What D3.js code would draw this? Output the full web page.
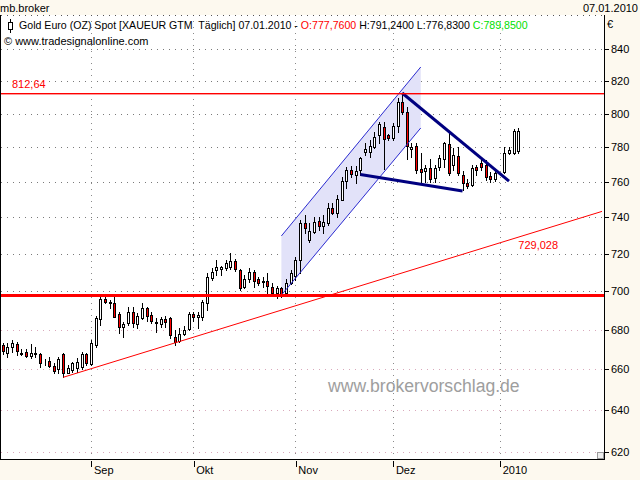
<!DOCTYPE html>
<html>
<head>
<meta charset="utf-8">
<script src="https://cdn.jsdelivr.net/npm/d3@7"></script>
<style>
body { margin: 0; background: #fdf9ef; }
svg { display: block; font-family: "Liberation Sans", Arial, sans-serif; }
</style>
</head>
<body>
<div id="chart"></div>
<script>
// daily OHLC, Gold Euro spot, 05.08.2009 - 07.01.2010 (null = no trading, 01.01.2010)
const opens = [672.1,668.0,671.0,672.6,667.6,668.8,666.7,667.6,667.6,663.6,664.1,661.6,660.0,667.6,658.3,659.6,660.5,661.0,667.6,
  662.6,672.1,685.3,695.9,693.6,693.6,688.0,681.2,683.2,688.9,682.9,686.0,691.0,687.5,683.2,682.9,685.3,685.8,676.1,674.3,677.8,680.2,
  688.0,686.3,686.6,693.9,706.8,711.2,711.6,712.1,713.0,716.2,711.2,702.3,706.3,710.3,706.3,705.5,705.5,702.3,698.8,701.5,699.2,704.5,
  708.1,716.6,736.7,727.5,732.0,738.0,735.1,737.0,745.0,742.6,749.7,760.7,766.8,764.0,766.8,777.1,777.1,780.4,787.3,792.3,787.3,
  785.4,792.7,807.3,801.3,778.9,780.8,767.2,766.4,767.8,762.1,768.4,773.0,781.8,769.7,774.9,763.8,759.5,758.2,768.8,771.1,769.7,763.6,761.6,
  null,765.9,776.9,776.9,777.76];
const highs = [673.2,673.2,674.7,673.8,670.1,670.1,672.6,671.3,668.1,665.0,666.3,663.1,666.3,668.0,662.1,663.8,665.5,668.8,668.3,
  674.7,687.2,697.0,697.5,695.3,697.9,689.2,684.1,691.8,691.8,688.4,693.9,691.8,689.2,685.8,686.6,687.0,686.6,679.8,680.7,681.9,689.2,
  689.2,689.2,695.3,709.5,712.1,716.6,713.4,716.6,720.2,717.0,711.6,708.6,712.1,711.2,707.7,707.3,709.5,704.5,702.7,702.3,706.3,711.2,
  718.4,738.5,741.2,736.7,740.3,740.3,741.2,747.9,747.9,752.6,763.0,768.8,769.2,769.2,774.6,782.4,784.4,789.3,795.3,795.3,787.9,
  794.3,809.4,812.64,804.3,782.4,782.4,776.6,769.7,773.0,769.7,775.5,783.4,788.4,779.5,780.4,766.4,761.5,769.7,769.7,772.6,772.6,765.5,766.8,
  null,780.4,780.4,790.8,791.24];
const lows = [667.6,666.3,668.8,667.0,667.0,666.2,665.7,666.3,661.3,662.3,661.0,658.0,658.0,656.0,658.0,658.8,658.8,660.1,662.1,
  662.1,671.3,682.3,694.0,691.0,686.3,678.1,676.2,682.3,681.4,680.7,685.5,684.6,683.5,679.0,681.4,681.4,675.6,672.1,673.8,677.3,679.8,
  684.6,680.7,684.9,690.1,705.9,708.6,708.6,711.2,711.6,710.9,700.6,701.5,705.0,702.3,703.3,702.3,699.2,697.9,696.5,697.0,697.4,703.7,
  705.9,709.5,731.1,726.6,731.1,733.0,731.1,735.8,741.8,740.3,749.7,756.4,763.0,759.5,764.0,775.5,774.6,779.5,782.4,767.4,784.4,
  784.4,789.3,799.9,773.5,774.6,764.9,760.1,760.1,760.1,760.1,766.8,768.8,763.8,766.8,763.8,755.4,756.8,757.7,764.0,766.8,761.1,760.1,760.7,
  null,764.9,776.0,776.2,776.83];
const closes = [669.1,671.3,673.0,669.1,668.3,666.7,668.3,668.3,663.3,663.6,661.8,659.3,665.0,658.0,660.5,663.0,663.8,667.6,663.3,
  673.0,686.0,695.7,694.5,694.3,686.6,681.2,682.9,688.9,683.5,687.0,691.0,687.0,684.6,684.1,685.3,683.8,677.3,673.6,677.8,679.8,688.0,
  686.3,687.5,694.4,707.7,710.3,713.0,712.7,715.1,716.2,711.6,701.5,706.3,710.3,705.5,704.5,705.0,702.7,698.8,701.8,697.9,704.5,709.5,
  716.6,736.7,733.9,732.4,737.6,735.4,737.6,745.0,742.6,750.1,760.7,766.8,764.5,766.3,773.6,778.9,780.8,786.3,793.9,784.8,785.4,
  792.7,807.3,801.3,780.6,780.4,766.8,765.5,768.0,761.5,767.8,773.6,782.4,765.2,775.5,765.2,759.5,757.7,767.8,767.0,768.8,763.0,761.6,765.0,
  null,776.9,778.5,789.5,789.85];

const yTicks = [840,820,800,780,760,740,720,700,680,660,640,620];
const monthLabels = ["Sep","Okt","Nov","Dez","2010"];

// drawn levels and lines: [bar index, price]
const resistance = 812.64;
const support = 698;
const trendLine = [[13, 656.0], [111, 729.028]];
const channelTop = [[60, 729.7], [90, 828.7]];
const channelBottom = [[60, 697.9], [90, 791.5]];
const wedgeTop = [[86, 812.64], [109, 760.5]];
const wedgeBottom = [[77, 764.3], [99, 754.8]];

// trading days (weekdays)
const dates = [];
for (let d = new Date(2009, 7, 5); d <= new Date(2010, 0, 7); d.setDate(d.getDate() + 1)) {
  if (d.getDay() !== 0 && d.getDay() !== 6) dates.push(new Date(d));
}
const monthIdx = [];
dates.forEach((d, i) => { if (i > 0 && d.getMonth() !== dates[i-1].getMonth()) monthIdx.push(i) });

const W = 640, H = 480;
const pL = 1, pR = 604, pT = 15, pB = 459;

const x = d3.scaleLinear().domain([0, dates.length - 1]).range([2.7, 518.3]);
const y = d3.scaleLog().domain([620, 840]).range([452.3, 49]);

const svg = d3.select('#chart').append('svg').attr('width', W).attr('height', H);
svg.append('rect').attr('width', W).attr('height', H).attr('fill', '#fdf9ef');
svg.append('rect').attr('x', pL).attr('y', pT).attr('width', pR - pL).attr('height', pB - pT).attr('fill', '#fff');

svg.append('clipPath').attr('id', 'clip').append('rect')
  .attr('x', pL).attr('y', pT).attr('width', pR - pL).attr('height', pB - pT);

const px = v => Math.round(v) + 0.5;

//grid
const grid = svg.append('g').attr('shape-rendering', 'crispEdges');
grid.selectAll('.hg').data(yTicks).enter().append('line')
  .attr('x1', pL).attr('x2', pR)
  .attr('y1', d => px(y(d))).attr('y2', d => px(y(d)))
  .attr('stroke', d => d <= 680 ? '#d9a9bb' : '#7a7a7a')
  .attr('stroke-dasharray', '1,5');
grid.selectAll('.vg').data(monthIdx).enter().append('line')
  .attr('x1', d => px(x(d))).attr('x2', d => px(x(d)))
  .attr('y1', pT).attr('y2', pB)
  .attr('stroke', '#8a8a8a')
  .attr('stroke-dasharray', '1,5');
grid.append('line').attr('x1', pL).attr('x2', pR).attr('y1', pT + 0.5).attr('y2', pT + 0.5)
  .attr('stroke', '#555').attr('stroke-dasharray', '1,5');

const g = svg.append('g').attr('clip-path', 'url(#clip)');

// channel fill
const P = p => [x(p[0]), y(p[1])];
g.append('polygon')
  .attr('points', [P(channelTop[0]), P(channelTop[1]), P(channelBottom[1]), P(channelBottom[0])].map(p => p.join(',')).join(' '))
  .attr('fill', '#e2e2f9');

// candles
const bars = d3.range(dates.length).filter(i => opens[i] !== null);
const cg = g.append('g').attr('shape-rendering', 'crispEdges');
cg.selectAll('.wick').data(bars).enter().append('line')
  .attr('x1', i => px(x(i))).attr('x2', i => px(x(i)))
  .attr('y1', i => Math.round(y(highs[i]))).attr('y2', i => Math.round(y(lows[i])) + 1)
  .attr('stroke', '#000');
cg.selectAll('.body').data(bars).enter().append('rect')
  .attr('x', i => Math.round(x(i)) - 1 + 0.5)
  .attr('y', i => Math.round(y(Math.max(opens[i], closes[i]))) + 0.5)
  .attr('width', 2)
  .attr('height', i => Math.max(0, Math.round(y(Math.min(opens[i], closes[i]))) - Math.round(y(Math.max(opens[i], closes[i])))))
  .attr('fill', i => closes[i] >= opens[i] ? '#fff' : '#ff0000')
  .attr('stroke', '#000');

// lines
function seg(a, b, stroke, width, extendRight) {
  const p1 = P(a), p2 = P(b);
  if (extendRight) {
    const t = (pR - 2 - p1[0]) / (p2[0] - p1[0]);
    p2[1] = p1[1] + t * (p2[1] - p1[1]);
    p2[0] = pR - 2;
  }
  g.append('line').attr('x1', p1[0]).attr('y1', p1[1]).attr('x2', p2[0]).attr('y2', p2[1])
    .attr('stroke', stroke).attr('stroke-width', width);
}
seg(channelTop[0], channelTop[1], '#2b2bd0', 1);
seg(channelBottom[0], channelBottom[1], '#2b2bd0', 1);
seg(wedgeTop[0], wedgeTop[1], '#000080', 3);
seg(wedgeBottom[0], wedgeBottom[1], '#000080', 3);
seg(trendLine[0], trendLine[1], '#ff0000', 1, true);

// horizontal levels
g.append('rect').attr('x', pL).attr('width', pR - pL).attr('y', Math.round(y(resistance))).attr('height', 1.4)
  .attr('fill', '#ff0000');
g.append('rect').attr('x', pL).attr('width', pR - pL).attr('y', Math.round(y(support)) - 1).attr('height', 3)
  .attr('fill', '#ff0000');

svg.append('text').attr('x', 12).attr('y', y(resistance) - 5)
  .attr('font-size', 11).attr('fill', '#ff0000').text(d3.format('.2f')(resistance).replace('.', ','));
svg.append('text').attr('x', x(trendLine[1][0])).attr('y', y(trendLine[1][1]) + 12)
  .attr('font-size', 11).attr('fill', '#ff0000').text(d3.format('.3f')(trendLine[1][1]).replace('.', ','));

// watermark
svg.append('text').attr('x', 328).attr('y', 392).attr('font-size', 17.6).attr('fill', '#9e9e9e')
  .text('www.brokervorschlag.de');

// frame
const frame = svg.append('g').attr('stroke', '#000').attr('shape-rendering', 'crispEdges');
frame.append('line').attr('x1', pL - 0.5).attr('x2', pL - 0.5).attr('y1', pT).attr('y2', pB + 1);
frame.append('line').attr('x1', pR + 0.5).attr('x2', pR + 0.5).attr('y1', pT).attr('y2', pB + 1);
frame.append('line').attr('x1', pL - 1).attr('x2', pR + 1).attr('y1', pB + 0.5).attr('y2', pB + 0.5);
svg.append('rect').attr('x', 597.5).attr('y', 452.5).attr('width', 6).attr('height', 6)
  .attr('fill', '#eee').attr('stroke', '#999').attr('shape-rendering', 'crispEdges');

// y-axis
const yAxis = d3.axisRight(y).tickValues(yTicks).tickFormat(d3.format('d')).tickSize(4).tickPadding(2);
const ya = svg.append('g').attr('transform', `translate(${pR + 1},0)`).call(yAxis);
ya.select('.domain').remove();
ya.selectAll('text').attr('font-size', 11).attr('font-family', '"Liberation Sans", Arial, sans-serif').attr('fill', '#000');
ya.selectAll('line').attr('shape-rendering', 'crispEdges');
svg.append('text').attr('x', 607).attr('y', 28).attr('font-size', 11).text('€');

// x-axis
const xAxis = d3.axisBottom(x).tickValues(monthIdx).tickFormat((d, i) => monthLabels[i]).tickSize(6).tickSizeOuter(0);
const xa = svg.append('g').attr('transform', `translate(0.5,${pB + 1})`).call(xAxis);
xa.select('.domain').remove();
xa.selectAll('.tick line').attr('y1', 1).attr('y2', 7).attr('shape-rendering', 'crispEdges');
xa.selectAll('text').attr('font-size', 11).attr('font-family', '"Liberation Sans", Arial, sans-serif').attr('fill', '#000')
  .attr('text-anchor', 'start').attr('dx', 2).attr('y', 6).attr('dy', '0.71em');

// header
const last = dates.length - 1;
const fmt4 = v => d3.format('.4f')(v).replace('.', ',');
const dstr = d3.timeFormat('%d.%m.%Y')(dates[last]);
svg.append('text').attr('x', 0).attr('y', 12).attr('font-size', 11).text('mb.broker');
svg.append('text').attr('x', 638).attr('y', 12).attr('font-size', 11).attr('text-anchor', 'end').text(dstr);
svg.append('line').attr('x1', 10.5).attr('x2', 10.5).attr('y1', 19).attr('y2', 33).attr('stroke', '#000');
svg.append('rect').attr('x', 8.5).attr('y', 22.5).attr('width', 4).attr('height', 7).attr('fill', '#fff').attr('stroke', '#000');
const ht = svg.append('text').attr('x', 19).attr('y', 29).attr('font-size', 10.6).attr('xml:space', 'preserve');
ht.append('tspan').text(`Gold Euro (OZ) Spot [XAUEUR GTM  Täglich] ${dstr} - `);
ht.append('tspan').attr('fill', '#ff0000').text(`O:${fmt4(opens[last])}`);
ht.append('tspan').text(` H:${fmt4(highs[last])} L:${fmt4(lows[last])} `);
ht.append('tspan').attr('fill', '#00e000').text(`C:${fmt4(closes[last])}`);
svg.append('text').attr('x', 4).attr('y', 45).attr('font-size', 11).text('© www.tradesignalonline.com');
</script>
</body>
</html>
